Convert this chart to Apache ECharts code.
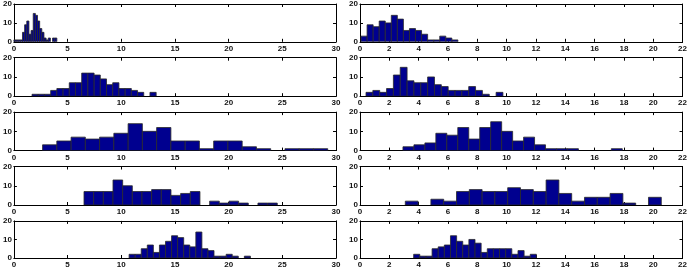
<!DOCTYPE html>
<html>
<head>
<meta charset="utf-8">
<script src="https://cdn.jsdelivr.net/npm/echarts@6/dist/echarts.min.js"></script>
<style>
html,body{margin:0;padding:0;background:#fff;}
#chart{width:690px;height:269px;}
</style>
</head>
<body>
<div id="chart"></div>
<script>
// Histogram counts (20 bins each)
const counts1  = [1,1,1,1,5,9,11,4,6,15,14,11,7,5,2,1,2,0,2,2];
const counts2  = [3,9,8,11,10,14,12,6,7,6,4,1,1,3,2,1];
const counts3  = [1,1,1,3,4,4,7,7,12,12,11,9,6,7,4,4,3,2,0,2];
const counts4  = [2,3,2,4,11,15,8,7,7,10,6,5,3,3,3,5,3,1,0,2];
const counts5  = [3,5,7,6,7,9,14,10,12,5,5,1,5,5,2,1,0,1,1,1];
const counts6  = [2,3,4,9,8,12,6,12,15,10,5,7,3,1,1,1,0,0,0,1];
const counts7  = [7,7,7,13,10,7,7,8,8,5,6,7,0,2,1,2,1,0,1,1];
const counts8  = [2,0,3,2,7,8,7,7,9,8,7,13,6,2,4,4,6,1,0,4];
const counts9  = [2,2,5,7,3,7,9,12,11,7,6,14,5,4,1,1,2,1,0,1];
const counts10 = [2,1,1,5,6,7,12,9,7,10,8,3,5,5,5,5,2,4,1,2];
// first bin edge and bin width of each histogram (data units)
const binStart = [0, 0.07, 1.69, 0.41, 2.67, 2.93, 6.53, 3.09, 10.73, 3.66];
const binWidth = [0.2, 0.413, 0.578, 0.467, 1.328, 0.748, 0.90, 0.873, 0.565, 0.4185];
const allCounts = [counts1,counts2,counts3,counts4,counts5,counts6,counts7,counts8,counts9,counts10];
// axis ranges: left column 0..30 step 5, right column 0..22 step 2; y 0..20 step 10
const xLeft = {min:0, max:30, step:5};
const xRight = {min:0, max:22, step:2};
const yRange = {min:0, max:20, step:10};

const chart = echarts.init(document.getElementById('chart'), null, {renderer:'canvas'});
const grids = [], xAxes = [], yAxes = [], series = [];
const font = {fontFamily:'Liberation Sans, Arial, sans-serif', fontSize:8, fontWeight:'bold', color:'#111'};
const lineStyle = {color:'#000', width:1};

for (let i = 0; i < 10; i++) {
  const row = Math.floor(i / 2), col = i % 2;
  const xr = col === 0 ? xLeft : xRight;
  grids.push({
    left: col === 0 ? 10 : 360,
    width: col === 0 ? 326 : 325,
    top: 3.3 + 54.4 * row,
    height: 38.5
  });
  const xBase = {gridIndex:i, type:'value', min:xr.min, max:xr.max, interval:xr.step,
    splitLine:{show:false}, axisLine:{show:true, onZero:false, lineStyle},
    axisTick:{show:true, inside:true, length:3, lineStyle}};
  xAxes.push(Object.assign({}, xBase, {position:'bottom',
    axisLabel:Object.assign({margin:3}, font)}));
  xAxes.push(Object.assign({}, xBase, {position:'top', axisLabel:{show:false}}));
  const yBase = {gridIndex:i, type:'value', min:yRange.min, max:yRange.max, interval:yRange.step,
    splitLine:{show:false}, axisLine:{show:true, onZero:false, lineStyle},
    axisTick:{show:true, inside:true, length:3, lineStyle}};
  yAxes.push(Object.assign({}, yBase, {position:'left',
    axisLabel:Object.assign({margin:2}, font)}));
  yAxes.push(Object.assign({}, yBase, {position:'right', axisLabel:{show:false}}));

  const data = [];
  allCounts[i].forEach((c, k) => {
    if (c > 0) {
      const a = binStart[i] + k * binWidth[i];
      data.push([a, a + binWidth[i], c]);
    }
  });
  series.push({
    type:'custom', xAxisIndex:2*i, yAxisIndex:2*i, clip:true, silent:true,
    data,
    renderItem:function(params, api){
      const p0 = api.coord([api.value(0), api.value(2)]);
      const p1 = api.coord([api.value(1), 0]);
      return {type:'rect',
        shape:{x:p0[0], y:p0[1], width:p1[0]-p0[0], height:p1[1]-p0[1]},
        style:{fill:'#00008F', stroke:'#2a2a2a', lineWidth:0.8}};
    }
  });
}

chart.setOption({animation:false, backgroundColor:'#fff', grid:grids, xAxis:xAxes, yAxis:yAxes, series});
</script>
</body>
</html>
